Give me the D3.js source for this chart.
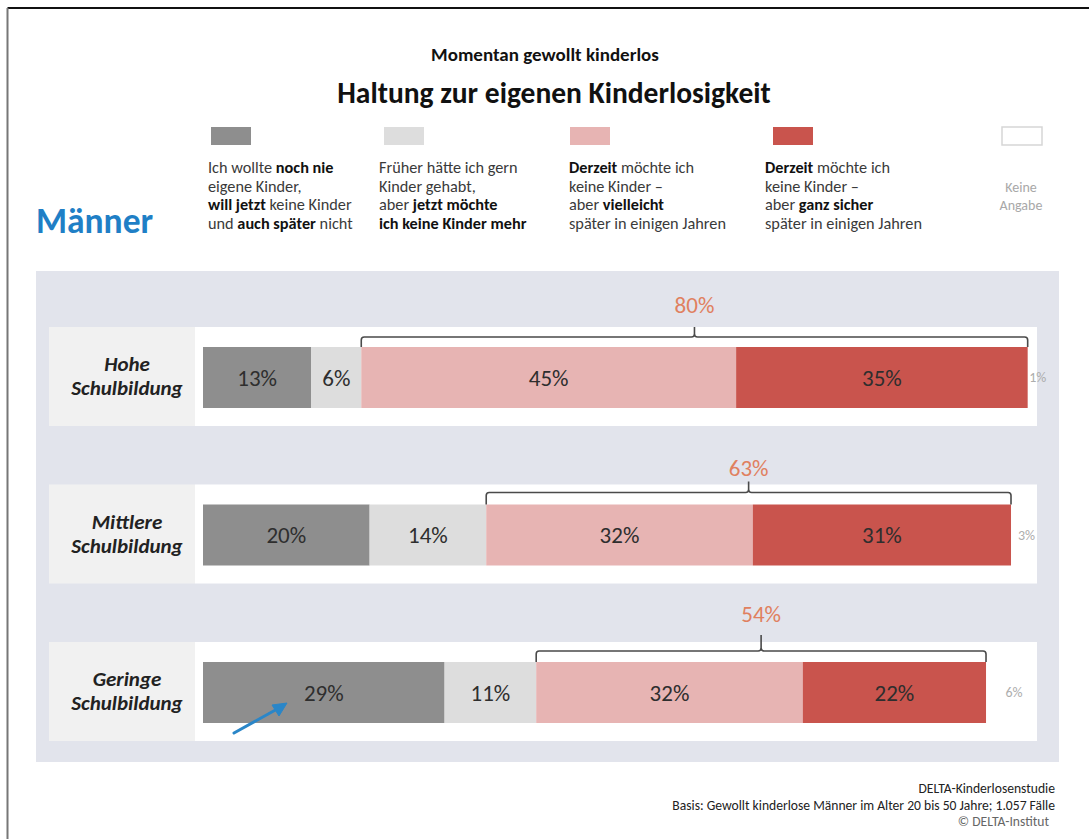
<!DOCTYPE html>
<html lang="de">
<head>
<meta charset="utf-8">
<title>Haltung zur eigenen Kinderlosigkeit</title>
<script src="https://cdn.jsdelivr.net/npm/d3@7/dist/d3.min.js"></script>
<style>
  html, body { margin: 0; padding: 0; background: #fff; }
  svg { display: block; font-family: Carlito, Lato, "Open Sans", sans-serif; }
</style>
</head>
<body>
<svg id="chart" width="1089" height="839"></svg>
<script>
// Bildungsgruppen (Zeilen)
const groups = [["Hohe", "Schulbildung"], ["Mittlere", "Schulbildung"], ["Geringe", "Schulbildung"]];

// Antwortkategorien
const categories = ["nochNie", "frueher", "vielleicht", "ganzSicher", "keineAngabe"];

// Anteile in Prozent je Gruppe, in Reihenfolge der Kategorien
const nochNie    = [13, 20, 29];
const frueher    = [6, 14, 11];
const vielleicht = [45, 32, 32];
const ganzSicher = [35, 31, 22];
const keineAngabe = [1, 3, 6];

const colors = ["#8e8e8e", "#dddddd", "#e7b4b3", "#c9544d", "#ffffff"];

// Legendentexte: Zeilen aus [Text, fett?]
const legendTexts = [
  [[["Ich wollte ", false], ["noch nie", true]], [["eigene Kinder,", false]], [["will jetzt", true], [" keine Kinder", false]], [["und ", false], ["auch später", true], [" nicht", false]]],
  [[["Früher hätte ich gern", false]], [["Kinder gehabt,", false]], [["aber ", false], ["jetzt möchte", true]], [["ich keine Kinder mehr", true]]],
  [[["Derzeit", true], [" möchte ich", false]], [["keine Kinder –", false]], [["aber ", false], ["vielleicht", true]], [["später in einigen Jahren", false]]],
  [[["Derzeit", true], [" möchte ich", false]], [["keine Kinder –", false]], [["aber ", false], ["ganz sicher", true]], [["später in einigen Jahren", false]]],
  [[["Keine", false]], [["Angabe", false]]]
];

const footer = ["DELTA-Kinderlosenstudie", "Basis: Gewollt kinderlose Männer im Alter 20 bis 50 Jahre; 1.057 Fälle", "©  DELTA-Institut"];

const values = [nochNie, frueher, vielleicht, ganzSicher, keineAngabe];
const rows = groups.map((g, i) => {
  let acc = 0;
  const segs = categories.map((c, k) => {
    const v = values[k][i];
    const s = { key: c, k, v, x0: acc, x1: acc + v };
    acc += v;
    return s;
  });
  return { label: g, segs };
});

const svg = d3.select("#chart");

// Rahmen
svg.append("line").attr("x1", 7.5).attr("x2", 1089).attr("y1", 8).attr("y2", 8)
  .attr("stroke", "#111").attr("stroke-width", 2);
svg.append("line").attr("x1", 7.5).attr("x2", 7.5).attr("y1", 8).attr("y2", 839)
  .attr("stroke", "#777").attr("stroke-width", 2);

// Titel
svg.append("text").attr("x", 545).attr("y", 61).attr("text-anchor", "middle")
  .attr("font-size", 19).attr("font-weight", 700).attr("fill", "#111")
  .text("Momentan gewollt kinderlos");
svg.append("text").attr("x", 554).attr("y", 103).attr("text-anchor", "middle")
  .attr("font-size", 29.5).attr("font-weight", 700).attr("fill", "#111")
  .text("Haltung zur eigenen Kinderlosigkeit");

svg.append("text").attr("x", 36).attr("y", 233)
  .attr("font-size", 35.5).attr("font-weight", 700).attr("fill", "#1f7fc6")
  .text("Männer");

// Legende
const legendX = [211, 384, 570, 773, 1002];
const textX = [208, 379, 569, 765, 1021];
const lg = svg.append("g");
categories.forEach((c, k) => {
  lg.append("rect").attr("x", legendX[k]).attr("y", 127).attr("width", 40).attr("height", 18)
    .attr("fill", colors[k])
    .attr("stroke", k === 4 ? "#d6d6d6" : "none").attr("stroke-width", 1.5);
  const isNA = k === 4;
  const t = lg.append("text")
    .attr("text-anchor", isNA ? "middle" : "start")
    .attr("font-size", isNA ? 14 : 16.3)
    .attr("fill", isNA ? "#a8a8a8" : "#3a3a3a");
  legendTexts[k].forEach((line, li) => {
    line.forEach(([txt, bold], si) => {
      const ts = t.append("tspan").text(txt).attr("font-weight", bold ? 700 : 400)
        .attr("fill", bold ? "#111" : null);
      if (si === 0) {
        ts.attr("x", textX[k]).attr("y", (isNA ? 192 : 173) + li * (isNA ? 18 : 18.5));
      }
    });
  });
});

// Hintergrundfläche
svg.append("rect").attr("x", 36).attr("y", 271).attr("width", 1023).attr("height", 491)
  .attr("fill", "#e2e4ec");

const x = d3.scaleLinear().domain([0, 100]).range([203, 1036]);
const rowTop = d3.scalePoint().domain(d3.range(groups.length)).range([327, 642]);
const stripH = 99, barOff = 20, barH = 61;

const rowG = svg.selectAll("g.row").data(rows).join("g").attr("class", "row")
  .attr("transform", (d, i) => `translate(0,${rowTop(i)})`);

// Beschriftungsfeld und weißer Streifen
rowG.append("rect").attr("x", 49).attr("y", 0).attr("width", 146).attr("height", stripH)
  .attr("fill", "#f1f1f1");
rowG.append("rect").attr("x", 195).attr("y", 0).attr("width", x(100) - 195 + 1).attr("height", stripH)
  .attr("fill", "#ffffff");

rowG.append("text").attr("text-anchor", "middle").attr("font-size", 21)
  .attr("font-weight", 700).attr("font-style", "italic").attr("fill", "#222")
  .each(function (d) {
    const t = d3.select(this);
    d.label.forEach((s, li) => t.append("tspan").attr("x", 127).attr("y", 44 + li * 24).text(s));
  });

// "Keine Angabe"-Werte liegen unter den Balken
rowG.append("text").attr("class", "na")
  .attr("x", d => { const s = d.segs[4]; return (x(s.x0) + x(s.x1)) / 2 + (s.v < 2 ? 6 : 3); })
  .attr("y", barOff + barH / 2).attr("dy", "0.35em").attr("text-anchor", "middle")
  .attr("font-size", 14).attr("fill", "#adadad")
  .text(d => d.segs[4].v + "%");

// Balkensegmente
rowG.selectAll("rect.seg").data(d => d.segs.slice(0, 4)).join("rect").attr("class", "seg")
  .attr("x", s => x(s.x0)).attr("width", s => x(s.x1) - x(s.x0))
  .attr("y", barOff).attr("height", barH)
  .attr("fill", s => colors[s.k]);

// Werte
rowG.selectAll("text.val").data(d => d.segs.slice(0, 4)).join("text").attr("class", "val")
  .attr("x", s => (x(s.x0) + x(s.x1)) / 2)
  .attr("y", barOff + barH / 2)
  .attr("dy", "0.36em").attr("text-anchor", "middle")
  .attr("font-size", 23)
  .attr("fill", "#2e2e2e")
  .text(s => s.v + "%");

// Klammer über "Derzeit keine Kinder" (vielleicht + ganz sicher)
const bracketLift = [10, 12, 11];
const tickLen = [10, 11, 16];
const labelGap = [32, 25, 37];
rowG.each(function (d, i) {
  const g = d3.select(this);
  const a = d.segs[2], b = d.segs[3];
  const x0 = x(a.x0), x1 = x(b.x1), xm = (x0 + x1) / 2;
  const yb = barOff, yl = barOff - bracketLift[i], r = 3;
  const p = d3.path();
  p.moveTo(x0, yb);
  p.lineTo(x0, yl + r);
  p.quadraticCurveTo(x0, yl, x0 + r, yl);
  p.lineTo(xm - r, yl);
  p.quadraticCurveTo(xm, yl, xm, yl - r);
  p.lineTo(xm, yl - tickLen[i]);
  p.moveTo(xm, yl - r);
  p.quadraticCurveTo(xm, yl, xm + r, yl);
  p.lineTo(x1 - r, yl);
  p.quadraticCurveTo(x1, yl, x1, yl + r);
  p.lineTo(x1, yb);
  g.append("path").attr("d", p.toString()).attr("fill", "none")
    .attr("stroke", "#4a4a4a").attr("stroke-width", 1.6);
  g.append("text").attr("x", xm).attr("y", yl - labelGap[i]).attr("dy", "0.36em")
    .attr("text-anchor", "middle")
    .attr("font-size", 23).attr("fill", "#e0805f")
    .text((a.v + b.v) + "%");
});

// Pfeil auf 29 % (geringe Schulbildung)
const ar = svg.append("g").attr("stroke", "#2a86c8").attr("fill", "#2a86c8");
ar.append("line").attr("x1", 234).attr("y1", 733).attr("x2", 279).attr("y2", 708)
  .attr("stroke-width", 3).attr("stroke-linecap", "round");
ar.append("path").attr("d", "M287,703 L272,705 L279,716 Z").attr("stroke-width", 1);

// Quellenangabe
svg.append("g").selectAll("text").data(footer).join("text")
  .attr("x", (d, i) => i === 2 ? 1049 : 1055)
  .attr("y", (d, i) => 793 + i * 16.5)
  .attr("text-anchor", "end").attr("font-size", 13.6)
  .attr("fill", (d, i) => i === 2 ? "#666" : "#222")
  .text(d => d);
</script>
</body>
</html>
